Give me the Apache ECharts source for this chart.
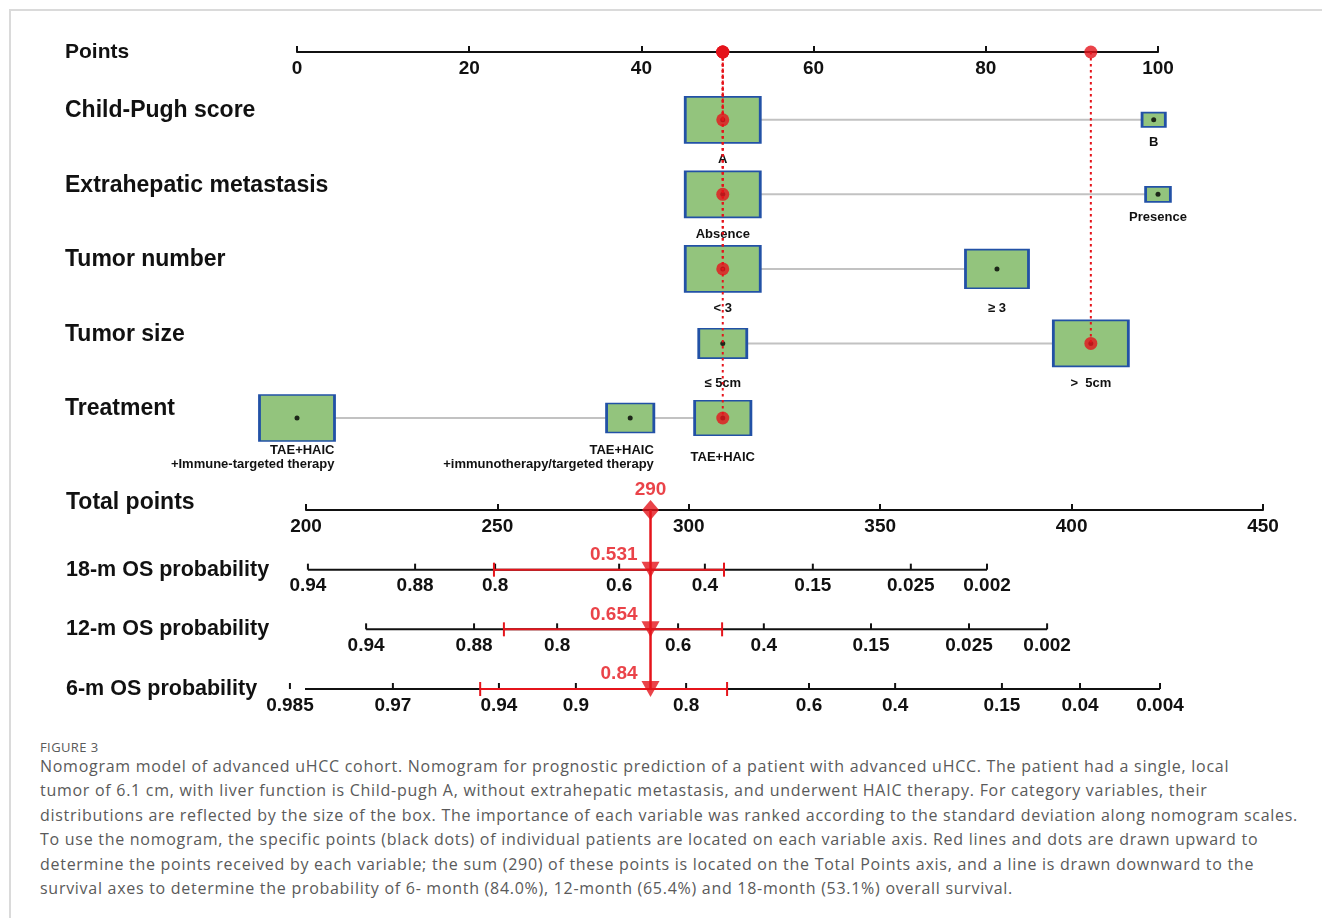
<!DOCTYPE html>
<html>
<head>
<meta charset="utf-8">
<title>Nomogram</title>
<script src="https://cdn.jsdelivr.net/npm/echarts@6/dist/echarts.min.js"></script>
<style>
  html, body { margin: 0; padding: 0; background: #fff; }
  #frame { position: absolute; left: 9px; top: 9px; width: 1313px; height: 909px;
           border-top: 2px solid #dadada; border-left: 2px solid #dadada; box-sizing: border-box; }
  #chart { position: absolute; left: 0; top: 0; width: 1322px; height: 730px; }
  #caption { position: absolute; left: 40px; top: 739px; width: 1275px; color: #5a5a5a;
             font-family: "Open Sans", "Noto Sans", sans-serif; }
  #caption .fig { font-size: 13px; letter-spacing: 0.4px; line-height: 16px; }
  #caption .txt { font-size: 16px; line-height: 24.4px; margin-top: -1px; white-space: nowrap;
                  letter-spacing: 0.72px; }
</style>
</head>
<body>
<div id="frame"></div>
<div id="chart"></div>
<div id="caption">
  <div class="fig">FIGURE 3</div>
  <div class="txt">Nomogram model of advanced uHCC cohort. Nomogram for prognostic prediction of a patient with advanced uHCC. The patient had a single, local<br>tumor of 6.1 cm, with liver function is Child-pugh A, without extrahepatic metastasis, and underwent HAIC therapy. For category variables, their<br>distributions are reflected by the size of the box. The importance of each variable was ranked according to the standard deviation along nomogram scales.<br>To use the nomogram, the specific points (black dots) of individual patients are located on each variable axis. Red lines and dots are drawn upward to<br>determine the points received by each variable; the sum (290) of these points is located on the Total Points axis, and a line is drawn downward to the<br>survival axes to determine the probability of 6- month (84.0%), 12-month (65.4%) and 18-month (53.1%) overall survival.</div>
</div>
<script>
// ---- Nomogram data -------------------------------------------------------
const variableNames = ['Child-Pugh score', 'Extrahepatic metastasis', 'Tumor number', 'Tumor size', 'Treatment'];

const childPughLevels = ['A', 'B'];
const childPughPoints = [49.45, 99.5];
const childPughShare = [1, 0.31];          // relative box size (distribution)

const metastasisLevels = ['Absence', 'Presence'];
const metastasisPoints = [49.45, 100];
const metastasisShare = [1, 0.33];

const tumorNumberLevels = ['< 3', '≥ 3'];
const tumorNumberPoints = [49.45, 81.3];
const tumorNumberShare = [1, 0.84];

const tumorSizeLevels = ['≤ 5cm', '>  5cm'];
const tumorSizePoints = [49.45, 92.2];
const tumorSizeShare = [0.64, 1];

const treatmentLevels = ['TAE+HAIC\n+Immune-targeted therapy', 'TAE+HAIC\n+immunotherapy/targeted therapy', 'TAE+HAIC'];
const treatmentPoints = [0, 38.7, 49.45];
const treatmentShare = [1, 0.63, 0.75];

// level chosen for the example patient, per variable
const patientLevel = [0, 0, 0, 1, 2];

// survival scales: tick labels and their position in total points
const survivalTitles = ['18-m OS probability', '12-m OS probability', '6-m OS probability'];
const os18Labels = ['0.94', '0.88', '0.8', '0.6', '0.4', '0.15', '0.025', '0.002'];
const os18Points = [200.5, 228.5, 249.4, 281.8, 304.2, 332.4, 358.0, 377.9];
const os12Labels = ['0.94', '0.88', '0.8', '0.6', '0.4', '0.15', '0.025', '0.002'];
const os12Points = [215.7, 243.9, 265.6, 297.2, 319.6, 347.6, 373.2, 393.6];
const os6Labels = ['0.985', '0.97', '0.94', '0.9', '0.8', '0.6', '0.4', '0.15', '0.04', '0.004'];
const os6Points = [195.8, 222.7, 250.4, 270.5, 299.3, 331.4, 353.9, 381.8, 402.2, 423.1];

// patient's predicted probability and its interval (in total points)
const survivalEstimates = ['0.531', '0.654', '0.84'];
const os18Band = [249.1, 309.2];
const os12Band = [251.7, 308.7];
const os6Band = [245.5, 310.0];

// ---- Layout & style ------------------------------------------------------
const FONT = '"Liberation Sans", Arial, Helvetica, sans-serif';
const RED = '#e5141b';
const INK = '#111111';
const BOX_FILL = '#93c47d';
const BOX_EDGE = '#2251a6';
const BOX_W = 75, BOX_H = 46;
const AXIS_ROW = 0.09;            // row value of the Points axis inside the upper grid
const TICK_LEN = 6;
const LABEL_GAP = 7;
const LEVEL_LINE_H = 14;          // line height of the level captions
const LEVEL_DROP = 39;            // caption centre below the row line
const SMALL_BOX_GAP = 8;          // caption gap under very small boxes

const levelSets = [
  [childPughLevels, childPughPoints, childPughShare],
  [metastasisLevels, metastasisPoints, metastasisShare],
  [tumorNumberLevels, tumorNumberPoints, tumorNumberShare],
  [tumorSizeLevels, tumorSizePoints, tumorSizeShare],
  [treatmentLevels, treatmentPoints, treatmentShare]
];
const survivalScales = [
  [os18Labels, os18Points, os18Band],
  [os12Labels, os12Points, os12Band],
  [os6Labels, os6Points, os6Band]
];

const patientPoints = levelSets.map((s, i) => s[1][patientLevel[i]]);
const patientTotal = Math.round(patientPoints.reduce((a, b) => a + b, 0));

// ---- Series data built from the arrays ----------------------------------
const connectorData = levelSets.map((s, i) => [Math.min(...s[1]), Math.max(...s[1]), i + 1]);

const boxData = [];
const dotData = [];
levelSets.forEach((s, i) => {
  s[0].forEach((name, j) => {
    const w = BOX_W * s[2][j], h = BOX_H * s[2][j];
    const lines = name.split('\n').length;
    const textH = lines * LEVEL_LINE_H;
    const gap = s[2][j] < 0.4 ? SMALL_BOX_GAP : Math.max(0, LEVEL_DROP - h / 2 - textH / 2);
    boxData.push({
      value: [s[1][j], i + 1],
      symbolSize: [w, h],
      label: {
        formatter: name,
        distance: gap,
        align: lines > 1 ? 'right' : 'center',
        offset: lines > 1 ? [w / 2, 0] : [0, 0]
      }
    });
    dotData.push([s[1][j], i + 1]);
  });
});

const patientDots = [];
patientPoints.forEach((p, i) => {
  patientDots.push([p, i + 1]);
  patientDots.push([p, AXIS_ROW]);
});

// dotted guides from each chosen level up to the Points axis
const guideSeries = patientPoints.map((p, i) => ({
  type: 'line', xAxisIndex: 0, yAxisIndex: 0, z: 4, clip: false, silent: true,
  symbol: 'none',
  data: [[p, AXIS_ROW], [p, i + 1]],
  lineStyle: { color: RED, width: 2, type: [2.5, 3.5], dashOffset: i === 0 ? 1.5 : 0 }
}));

const survivalTickData = [];
const survivalLineSeries = [];
survivalScales.forEach((s, r) => {
  s[1].forEach((p, k) => survivalTickData.push([p, r + 1, k]));
  survivalLineSeries.push({
    type: 'line', xAxisIndex: 1, yAxisIndex: 1, clip: false, silent: true, symbol: 'none', z: 2,
    data: [[s[1][0], r + 1], [s[1][s[1].length - 1], r + 1]],
    lineStyle: { color: INK, width: 2 }
  });
});
const bandData = survivalScales.map((s, r) => [s[2][0], s[2][1], r + 1]);
const arrowData = survivalEstimates.map((e, r) => ({ value: [patientTotal, r + 1], label: { formatter: e } }));

const boldText = (size, color) => ({ fontFamily: FONT, fontWeight: 'bold', fontSize: size, color: color });

const option = {
  animation: false,
  backgroundColor: 'transparent',
  grid: [
    { left: 297, top: 52, width: 861, height: 366 },
    { left: 306, top: 510, width: 957, height: 179 }
  ],
  xAxis: [
    {
      gridIndex: 0, type: 'value', position: 'top', min: 0, max: 100, interval: 20,
      axisLine: { show: true, lineStyle: { color: INK, width: 2 } },
      axisTick: { show: true, inside: false, length: TICK_LEN, lineStyle: { color: INK, width: 2 } },
      axisLabel: Object.assign({ inside: true, margin: LABEL_GAP }, boldText(19, INK)),
      splitLine: { show: false }
    },
    {
      gridIndex: 1, type: 'value', position: 'top', min: 200, max: 450, interval: 50,
      axisLine: { show: true, lineStyle: { color: INK, width: 2 } },
      axisTick: { show: true, inside: false, length: TICK_LEN, lineStyle: { color: INK, width: 2 } },
      axisLabel: Object.assign({ inside: true, margin: LABEL_GAP }, boldText(19, INK)),
      splitLine: { show: false }
    }
  ],
  yAxis: [
    {
      gridIndex: 0, type: 'value', inverse: true, min: AXIS_ROW, max: variableNames.length,
      axisLine: { show: false }, axisTick: { show: false }, splitLine: { show: false },
      axisLabel: {
        customValues: [AXIS_ROW].concat(variableNames.map((_, i) => i + 1)),
        align: 'left', margin: 232,
        formatter: v => (Math.abs(v - AXIS_ROW) < 1e-6)
          ? '{p|Points}'
          : '{r|' + variableNames[Math.round(v) - 1] + '}',
        rich: {
          p: boldText(21, INK),
          r: Object.assign({ padding: [0, 0, 18, 0] }, boldText(23, INK))
        }
      }
    },
    {
      gridIndex: 1, type: 'value', inverse: true, min: 0, max: survivalTitles.length, interval: 1,
      axisLine: { show: false }, axisTick: { show: false }, splitLine: { show: false },
      axisLabel: {
        align: 'left', margin: 240,
        formatter: v => v === 0 ? '{t|Total points}' : '{s|' + survivalTitles[v - 1] + '}',
        rich: {
          t: Object.assign({ padding: [0, 0, 14, 0] }, boldText(23, INK)),
          s: boldText(21.5, INK)
        }
      }
    }
  ],
  series: [
    // grey connectors between the levels of each variable
    {
      type: 'custom', xAxisIndex: 0, yAxisIndex: 0, z: 1, clip: false, silent: true,
      data: connectorData,
      renderItem: (params, api) => {
        const a = api.coord([api.value(0), api.value(2)]);
        const b = api.coord([api.value(1), api.value(2)]);
        return { type: 'line', shape: { x1: a[0], y1: a[1], x2: b[0], y2: b[1] },
                 style: { stroke: '#c2c2c2', lineWidth: 2 } };
      }
    },
    // distribution boxes
    {
      type: 'scatter', xAxisIndex: 0, yAxisIndex: 0, z: 2, clip: false, silent: true,
      symbol: 'rect',
      data: boxData,
      itemStyle: { color: BOX_FILL, borderColor: BOX_EDGE, borderWidth: 2.2, opacity: 1 },
      label: Object.assign({ show: true, position: 'bottom', lineHeight: LEVEL_LINE_H }, boldText(13, INK))
    },
    // level points
    {
      type: 'scatter', xAxisIndex: 0, yAxisIndex: 0, z: 3, clip: false, silent: true,
      symbol: 'circle', symbolSize: 5, data: dotData,
      itemStyle: { color: '#000' }
    },
    ...guideSeries,
    // patient's points
    {
      type: 'scatter', xAxisIndex: 0, yAxisIndex: 0, z: 5, clip: false, silent: true,
      symbol: 'circle', symbolSize: 13, data: patientDots,
      itemStyle: { color: RED }
    },
    // survival axes
    ...survivalLineSeries,
    {
      type: 'custom', xAxisIndex: 1, yAxisIndex: 1, z: 2, clip: false, silent: true,
      data: survivalTickData,
      renderItem: (params, api) => {
        const r = api.value(1), k = api.value(2);
        const p = api.coord([api.value(0), r]);
        return {
          type: 'group',
          children: [
            { type: 'line', shape: { x1: p[0], y1: p[1], x2: p[0], y2: p[1] - TICK_LEN },
              style: { stroke: INK, lineWidth: 2 } },
            { type: 'text', x: p[0], y: p[1] + LABEL_GAP,
              style: { text: survivalScales[r - 1][0][k], align: 'center', verticalAlign: 'top',
                       fontFamily: FONT, fontWeight: 'bold', fontSize: 19, fill: INK } }
          ]
        };
      }
    },
    // interval of the prediction on each survival axis
    {
      type: 'custom', xAxisIndex: 1, yAxisIndex: 1, z: 3, clip: false, silent: true,
      data: bandData,
      renderItem: (params, api) => {
        const a = api.coord([api.value(0), api.value(2)]);
        const b = api.coord([api.value(1), api.value(2)]);
        const st = { stroke: RED, lineWidth: 2 };
        return {
          type: 'group',
          children: [
            { type: 'line', shape: { x1: a[0], y1: a[1], x2: b[0], y2: b[1] }, style: st },
            { type: 'line', shape: { x1: a[0], y1: a[1] - 7, x2: a[0], y2: a[1] + 7 }, style: st },
            { type: 'line', shape: { x1: b[0], y1: b[1] - 7, x2: b[0], y2: b[1] + 7 }, style: st }
          ]
        };
      }
    },
    // drop line from the total points
    {
      type: 'line', xAxisIndex: 1, yAxisIndex: 1, z: 4, clip: false, silent: true, symbol: 'none',
      data: [[patientTotal, 0], [patientTotal, survivalTitles.length]],
      lineStyle: { color: RED, width: 2.5 }
    },
    {
      type: 'scatter', xAxisIndex: 1, yAxisIndex: 1, z: 5, clip: false, silent: true,
      symbol: 'diamond', symbolSize: [17, 20],
      data: [[patientTotal, 0]],
      itemStyle: { color: RED },
      label: Object.assign({ show: true, position: 'top', distance: 1, formatter: String(patientTotal) }, boldText(19, RED))
    },
    {
      type: 'scatter', xAxisIndex: 1, yAxisIndex: 1, z: 5, clip: false, silent: true,
      symbol: 'triangle', symbolRotate: 180, symbolSize: [18, 16],
      data: arrowData,
      itemStyle: { color: RED },
      label: Object.assign({ show: true, position: 'left', distance: 4, offset: [0, -15] }, boldText(19, RED))
    }
  ]
};

const chart = echarts.init(document.getElementById('chart'));
chart.setOption(option);
</script>
</body>
</html>
